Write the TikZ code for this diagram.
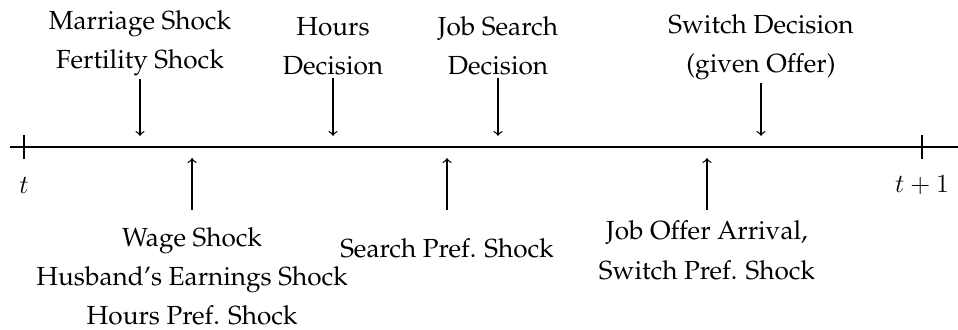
\documentclass[tikz,border=0pt]{standalone}
\usepackage[T1]{fontenc}
\usepackage{palatino}
\begin{document}
\begin{tikzpicture}[
    font=\fontsize{12}{18}\selectfont,
    lbl/.style={align=center,inner sep=1pt},
    evt/.style={->,semithick},
  ]
    \useasboundingbox (-0.387,-2.95) rectangle (15.058,2.37);

    % linea de tiempo
    \coordinate (lstart) at (-0.226,0);
    \coordinate (lend) at (15.06,0);
    \coordinate (t0) at (0,0);
    \coordinate (t1) at (14.478,0);
    \draw[thick] (lstart) -- (lend);
    \draw[thick] ([yshift=-0.2cm]t0) -- ([yshift=0.2cm]t0);
    \draw[thick] ([yshift=-0.2cm]t1) -- ([yshift=0.2cm]t1);
    \node (tlbl) at (0,-0.613) {$t$};
    \node (tnext) at (14.478,-0.613) {$t+1$};

    % arriba: decisiones y shocks
    \node[lbl,anchor=south] (marriage) at (1.87,1.1) {Marriage Shock\\Fertility Shock};
    \coordinate (mtip) at (1.87,0.18);
    \draw[evt] (marriage.south) -- (mtip);

    \node[lbl,anchor=south] (hours) at (4.982,1.12) {Hours\\Decision};
    \coordinate (htip) at (4.982,0.18);
    \draw[evt] (hours.south) -- (htip);

    \node[lbl,anchor=south] (search) at (7.642,1.112) {Job Search\\Decision};
    \coordinate (stip) at (7.642,0.18);
    \draw[evt] (search.south) -- (stip);

    \node[lbl,anchor=south] (switch) at (11.882,1.032) {Switch Decision\\(given Offer)};
    \coordinate (swtip) at (11.882,0.18);
    \draw[evt] (switch.south) -- (swtip);

    % abajo: shocks
    \node[lbl,anchor=north] (wage) at (2.71,-1.25) {Wage Shock\\Husband's Earnings Shock\\Hours Pref. Shock};
    \coordinate (wtip) at (2.71,-0.18);
    \draw[evt,shorten <=6.6pt] (wage.north) -- (wtip);

    \node[lbl,anchor=north] (spref) at (6.82,-1.44) {Search Pref. Shock};
    \coordinate (sptip) at (6.82,-0.18);
    \draw[evt,shorten <=12pt] (spref.north) -- (sptip);

    \node[lbl,anchor=north] (offer) at (11.011,-1.15) {Job Offer Arrival,\\Switch Pref. Shock};
    \coordinate (otip) at (11.011,-0.18);
    \draw[evt,shorten <=3.8pt] (offer.north) -- (otip);
  \end{tikzpicture}
\end{document}
